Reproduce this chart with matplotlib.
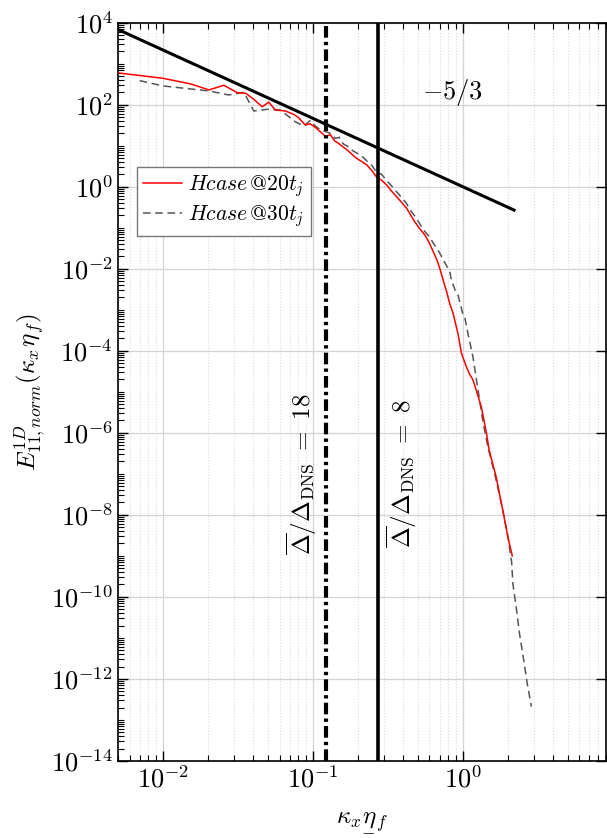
import numpy as np
import matplotlib
matplotlib.use("Agg")
import matplotlib.pyplot as plt
from matplotlib.mathtext import MathTextParser
from matplotlib.ticker import LogLocator, NullFormatter

plt.rcParams['mathtext.fontset'] = 'cm'
plt.rcParams['font.family'] = 'serif'
plt.rcParams['font.serif'] = ['cmr10', 'DejaVu Serif']
plt.rcParams['axes.formatter.use_mathtext'] = True

# Hcase @20 t_j
k20 = [0.0051, 0.010, 0.0153, 0.0203, 0.0255, 0.0313, 0.0356, 0.0404, 0.0459, 0.0508,
       0.0563, 0.0657, 0.0745, 0.080, 0.089, 0.096, 0.104, 0.112, 0.121, 0.131,
       0.140, 0.148, 0.158, 0.169, 0.182, 0.196, 0.212, 0.229, 0.247, 0.267,
       0.290, 0.311, 0.335, 0.362, 0.390, 0.422, 0.467, 0.51, 0.56, 0.60,
       0.636, 0.67, 0.703, 0.74, 0.78, 0.82, 0.863, 0.93, 0.98, 1.057,
       1.11, 1.17, 1.23, 1.33, 1.44, 1.50, 1.67, 1.85, 2.0, 2.14]
E20 = [590, 440, 320, 229, 297, 196, 190, 135, 89, 115,
       74, 70, 58, 49, 32, 34, 28, 22, 17, 18.5,
       13, 11.5, 9.5, 7.9, 6.2, 4.9, 4.1, 3.4, 2.5, 1.7,
       1.4, 1.1, 0.78, 0.57, 0.42, 0.30, 0.16, 0.10, 0.066, 0.042,
       0.026, 0.017, 0.0102, 0.0053, 0.0028, 0.0014, 8.1e-4, 2.6e-4, 8.7e-5, 4.1e-5,
       2.7e-5, 1.95e-5, 1.1e-5, 4.3e-6, 9.8e-7, 3.8e-7, 8.5e-8, 1.3e-8, 2.9e-9, 1.0e-9]

# Hcase @30 t_j
k30 = [0.0070, 0.010, 0.0203, 0.0275, 0.0347, 0.0404, 0.0496, 0.0608, 0.0766, 0.087,
       0.096, 0.104, 0.113, 0.122, 0.131, 0.141, 0.150, 0.160, 0.172, 0.185,
       0.198, 0.213, 0.230, 0.248, 0.267, 0.288, 0.311, 0.335, 0.362, 0.390,
       0.42, 0.45, 0.48, 0.52, 0.56, 0.60, 0.65, 0.703, 0.76, 0.82,
       0.84, 0.908, 0.93, 1.0, 1.03, 1.084, 1.17, 1.265, 1.36, 1.47,
       1.65, 1.85, 2.0, 2.12, 2.16, 2.27, 2.39, 2.57, 2.69, 2.87]
E30 = [385, 286, 216, 172, 200, 70, 77, 74, 38, 30,
       41, 30, 24, 22, 20, 15, 16, 11, 9.5, 7.5,
       6.5, 5.5, 4.2, 3.3, 2.2, 2.0, 1.4, 1.05, 0.75, 0.55,
       0.40, 0.26, 0.19, 0.12, 0.08, 0.06, 0.037, 0.024, 0.014, 0.0085,
       5.2e-3, 2.5e-3, 2.3e-3, 8.1e-4, 6.8e-4, 2.6e-4, 7.1e-5, 1.1e-5, 2.0e-6, 4.6e-7,
       8.5e-8, 1.3e-8, 3.0e-9, 7e-10, 2.1e-10, 5.8e-11, 1.3e-11, 2.4e-12, 7.9e-13, 2.1e-13]

# -5/3 reference line endpoints
k_ref = [0.004, 2.2]
slope = -5.0 / 3.0

# filter widths
k_filter18 = 0.122
k_filter8 = 0.274

# underlined eta (mathtext has no \underline)
eta_u = r'{\underset{-}{\eta}}'
try:
    MathTextParser('agg').parse(r'$\kappa_x' + eta_u + r'_f$', dpi=100)
except Exception:
    eta_u = r'\eta'

fig = plt.figure(figsize=(6.07, 8.38), dpi=100)
ax = fig.add_axes([0.194, 0.092, 0.804, 0.881])

ax.plot(k20, E20, color='#ff0000', lw=1.1, label=r'$Hcase\,@20t_j$', zorder=4)
ax.plot(k30, E30, color='#555555', lw=1.1, ls=(0, (5, 3)), label=r'$Hcase\,@30t_j$', zorder=3)

kr = np.array(k_ref)
ax.plot(kr, kr ** slope, color='k', lw=2.2, zorder=5)
ax.text(0.85, 195, r'$-5/3$', fontsize=19, ha='center', va='center')

ax.axvline(k_filter18, color='k', lw=3, ls=(0, (2.8, 1.0, 0.8, 1.0)), zorder=5)
ax.axvline(k_filter8, color='k', lw=2.6, zorder=5)
ax.text(0.084, 1e-7, r'$\overline{\Delta}/\Delta_{\mathrm{DNS}}\ =\ 18$', rotation=90,
        fontsize=18, ha='center', va='center')
ax.text(0.39, 1e-7, r'$\overline{\Delta}/\Delta_{\mathrm{DNS}}\ =\ 8$', rotation=90,
        fontsize=18, ha='center', va='center')

ax.set_xscale('log')
ax.set_yscale('log')
ax.set_xlim(5e-3, 9)
ax.set_ylim(1e-14, 1e4)

ax.yaxis.set_major_locator(LogLocator(base=100, numticks=20))
ax.yaxis.set_minor_locator(LogLocator(base=10, subs=np.arange(1, 10), numticks=100))
ax.yaxis.set_minor_formatter(NullFormatter())
ax.xaxis.set_minor_formatter(NullFormatter())

ax.grid(True, which='major', color='#d4d4d4', lw=0.9, ls='-')
ax.grid(True, which='minor', axis='x', color='#dadada', lw=0.8, ls=':')
ax.set_axisbelow(True)

ax.tick_params(which='both', direction='in', top=True, right=True, labelsize=19)
ax.tick_params(which='major', length=7, width=1)
ax.tick_params(which='minor', length=4, width=0.8)
ax.tick_params(axis='y', which='minor', right=False)
for s in ax.spines.values():
    s.set_linewidth(1.2)

ax.set_xlabel(r'$\kappa_x' + eta_u + r'_f$', fontsize=18, labelpad=12)
ax.set_ylabel(r'$E^{1D}_{11,norm}(\kappa_x' + eta_u + r'_f)$', fontsize=18, labelpad=4)

leg = ax.legend(loc='upper left', bbox_to_anchor=(0.039, 0.805), borderaxespad=0,
                fontsize=15.5, fancybox=False, framealpha=1, edgecolor='#777777',
                handlelength=1.8, handletextpad=0.3, borderpad=0.3, labelspacing=0.2)
leg.get_frame().set_linewidth(1.0)

fig.savefig('out.png', dpi=100)
